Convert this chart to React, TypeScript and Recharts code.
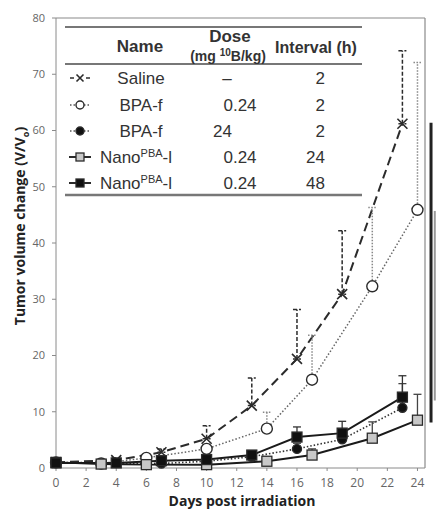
import React from "react";
import { LineChart, Line, XAxis, YAxis, ErrorBar, ReferenceLine, Customized } from "recharts";

// days and values, upper error bar ends as absolute values
const salineDays = [0, 4, 7, 10, 13, 16, 19, 23];
const salineVals = [1, 1.4, 2.8, 5.2, 11.1, 19.4, 30.9, 61.2];
const salineTop = [1.2, 1.8, 3.4, 7.5, 16.0, 28.2, 42.2, 74.2];

const bpaLowDays = [0, 3, 6, 10, 14, 17, 21, 24];
const bpaLowVals = [1, 0.8, 1.8, 3.4, 7.0, 15.7, 32.3, 45.9];
const bpaLowTop = [1.1, 1.0, 2.3, 4.2, 9.9, 23.6, 46.3, 72.1];

const bpaHighDays = [0, 4, 7, 10, 13, 16, 19, 23];
const bpaHighVals = [1, 0.9, 0.8, 1.2, 2.0, 3.4, 5.1, 10.7];
const bpaHighTop = [1.1, 1.1, 1.0, 1.6, 2.6, 4.4, 6.4, 15.0];

const nano24Days = [0, 3, 6, 10, 14, 17, 21, 24];
const nano24Vals = [1, 0.7, 0.6, 0.6, 1.2, 2.3, 5.3, 8.5];
const nano24Top = [1.1, 0.9, 0.8, 0.8, 1.5, 3.4, 8.2, 13.1];

const nano48Days = [0, 4, 7, 10, 13, 16, 19, 23];
const nano48Vals = [0.9, 0.9, 1.3, 1.5, 2.3, 5.5, 6.2, 12.6];
const nano48Top = [1.0, 1.0, 1.6, 1.9, 2.8, 7.3, 8.3, 16.4];

const xTicks = [0, 2, 4, 6, 8, 10, 12, 14, 16, 18, 20, 22, 24];
const yTicks = [0, 10, 20, 30, 40, 50, 60, 70, 80];

const legendRows = [
  { name: "Saline", sup: "", dose: "\u2013", interval: "2" },
  { name: "BPA-f", sup: "", dose: "0.24", interval: "2" },
  { name: "BPA-f", sup: "", dose: "24", interval: "2" },
  { name: "Nano", sup: "PBA", dose: "0.24", interval: "24" },
  { name: "Nano", sup: "PBA", dose: "0.24", interval: "48" },
];

function build(days: number[], vals: number[], tops: number[]) {
  return days.map((d, i) => ({ day: d, v: vals[i], err: [0, Math.max(0, tops[i] - vals[i])] }));
}

const saline = build(salineDays, salineVals, salineTop);
const bpaLow = build(bpaLowDays, bpaLowVals, bpaLowTop);
const bpaHigh = build(bpaHighDays, bpaHighVals, bpaHighTop);
const nano24 = build(nano24Days, nano24Vals, nano24Top);
const nano48 = build(nano48Days, nano48Vals, nano48Top);

const ink = "#2b2b2b";
const axisGray = "#8a8a8a";
const textFont = "'Liberation Sans', Arial, sans-serif";
const tickFont = "'Open Sans', sans-serif";

function Cross({ cx, cy, s = 5 }: any) {
  return (
    <path d={`M${cx - s},${cy - s}L${cx + s},${cy + s}M${cx - s},${cy + s}L${cx + s},${cy - s}`} stroke={ink} strokeWidth={1.6} fill="none" />
  );
}

function Circle({ cx, cy, r, fill }: any) {
  return <circle cx={cx} cy={cy} r={r} fill={fill} stroke={ink} strokeWidth={1.4} />;
}

function Square({ cx, cy, s, fill }: any) {
  return <rect x={cx - s / 2} y={cy - s / 2} width={s} height={s} fill={fill} stroke={ink} strokeWidth={1.3} />;
}

function LegendMarker({ i, x, y }: { i: number; x: number; y: number }) {
  if (i === 0)
    return (
      <g>
        <line x1={x - 10} x2={x - 6} y1={y} y2={y} stroke={ink} strokeWidth={1.5} />
        <line x1={x + 6} x2={x + 10} y1={y} y2={y} stroke={ink} strokeWidth={1.5} />
        <Cross cx={x} cy={y} s={3.5} />
      </g>
    );
  if (i === 1 || i === 2)
    return (
      <g>
        <line x1={x - 10} x2={x + 10} y1={y} y2={y} stroke="#555" strokeWidth={1.5} strokeDasharray="1.5 2" />
        <Circle cx={x} cy={y} r={4} fill={i === 1 ? "#fff" : "#111"} />
      </g>
    );
  return (
    <g>
      <line x1={x - 11} x2={x + 11} y1={y} y2={y} stroke={ink} strokeWidth={2} />
      <Square cx={x} cy={y} s={8} fill={i === 3 ? "#c8c8c8" : "#111"} />
    </g>
  );
}

function Annotations() {
  const rowY = [78, 105, 131, 157, 183];
  return (
    <g>
      {/* legend table */}
      <line x1={65} x2={362} y1={27} y2={27} stroke="#777" strokeWidth={2} />
      <line x1={65} x2={362} y1={64} y2={64} stroke="#777" strokeWidth={2} />
      <line x1={65} x2={362} y1={195} y2={195} stroke="#777" strokeWidth={2.5} />
      <text x={140} y={52} textAnchor="middle" fontFamily={textFont} fontWeight="bold" fontSize={17} fill="#333">Name</text>
      <text x={230} y={42} textAnchor="middle" fontFamily={textFont} fontWeight="bold" fontSize={17} fill="#333">Dose</text>
      <text x={228} y={61} textAnchor="middle" fontFamily={textFont} fontWeight="bold" fontSize={14} fill="#333">
        (mg <tspan fontSize={10} dy={-5}>10</tspan><tspan dy={5}>B/kg)</tspan>
      </text>
      <text x={316} y={53} textAnchor="middle" fontFamily={textFont} fontWeight="bold" fontSize={16} fill="#333">Interval (h)</text>
      {legendRows.map((r, i) => (
        <g key={i}>
          <LegendMarker i={i} x={80} y={rowY[i]} />
          <text x={r.sup ? 136 : 141} y={rowY[i] + 6} textAnchor="middle" fontFamily={textFont} fontSize={17} fill="#333">
            {r.name}
            {r.sup ? (
              <>
                <tspan fontSize={11} dy={-6}>{r.sup}</tspan>
                <tspan dy={6}>-l</tspan>
              </>
            ) : null}
          </text>
          <text
            x={r.dose === "24" ? 213 : r.dose === "0.24" ? 240 : 227}
            y={rowY[i] + 6}
            textAnchor={r.dose === "24" ? "start" : "middle"}
            fontFamily={textFont}
            fontSize={17}
            fill="#333"
          >
            {r.dose}
          </text>
          <text x={325} y={rowY[i] + 6} textAnchor="end" fontFamily={textFont} fontSize={17} fill="#333">{r.interval}</text>
        </g>
      ))}
      {/* axis titles */}
      <text x={242} y={506} textAnchor="middle" fontFamily={tickFont} fontWeight="bold" fontSize={14} fill="#222">Days post irradiation</text>
      <text transform="translate(25,226) rotate(-90)" textAnchor="middle" fontFamily={tickFont} fontWeight="bold" fontSize={14} fill="#222">
        Tumor volume change (V/V<tspan fontSize={9} dy={4}>o</tspan><tspan dy={-4}>)</tspan>
      </text>
    </g>
  );
}

export default function App() {
  return (
    <div style={{ position: "absolute", left: 0, top: 0, width: 436, height: 511, background: "#fff" }}>
      <LineChart width={436} height={511} margin={{ top: 18, right: 11, left: 0, bottom: 0 }}>
        <XAxis
          type="number"
          dataKey="day"
          domain={[0, 24.5]}
          ticks={xTicks}
          height={43}
          stroke={axisGray}
          tickSize={3}
          tickMargin={7}
          tick={{ fill: "#666", fontSize: 12, fontFamily: tickFont }}
          allowDuplicatedCategory={false}
        />
        <YAxis
          type="number"
          domain={[0, 80]}
          ticks={yTicks}
          width={56}
          stroke={axisGray}
          tickSize={4}
          tickMargin={7}
          tick={{ fill: "#666", fontSize: 11, fontFamily: tickFont }}
        />
        <ReferenceLine y={80} stroke={axisGray} strokeWidth={1.2} />
        <ReferenceLine x={24.5} stroke={axisGray} strokeWidth={1.2} />
        <ReferenceLine ifOverflow="visible" segment={[{ x: 24.9, y: 61.4 }, { x: 24.9, y: 8.1 }]} stroke="#222" strokeWidth={3} />
        <ReferenceLine ifOverflow="visible" segment={[{ x: 25.15, y: 45.7 }, { x: 25.15, y: 12 }]} stroke="#999" strokeWidth={2} />

        <Line
          data={saline}
          dataKey="v"
          stroke={ink}
          strokeWidth={2}
          strokeDasharray="9 5"
          isAnimationActive={false}
          dot={(p: any) => <Cross key={`s${p.index}`} cx={p.cx} cy={p.cy} s={5} />}
          activeDot={false}
        >
          <ErrorBar dataKey="err" direction="y" width={4} stroke={ink} strokeWidth={1.5} strokeDasharray="4 2" />
        </Line>
        <Line
          data={bpaLow}
          dataKey="v"
          stroke="#666"
          strokeWidth={1.5}
          strokeDasharray="1.5 2"
          isAnimationActive={false}
          dot={(p: any) => <Circle key={`b${p.index}`} cx={p.cx} cy={p.cy} r={5.5} fill="#fff" />}
          activeDot={false}
        >
          <ErrorBar dataKey="err" direction="y" width={4} stroke="#888" strokeWidth={1.5} strokeDasharray="1.5 1.5" />
        </Line>
        <Line
          data={bpaHigh}
          dataKey="v"
          stroke="#333"
          strokeWidth={1.6}
          strokeDasharray="1.5 2"
          isAnimationActive={false}
          dot={(p: any) => <Circle key={`h${p.index}`} cx={p.cx} cy={p.cy} r={4.5} fill="#111" />}
          activeDot={false}
        >
          <ErrorBar dataKey="err" direction="y" width={4} stroke="#444" strokeWidth={1.3} />
        </Line>
        <Line
          data={nano24}
          dataKey="v"
          stroke="#1a1a1a"
          strokeWidth={2}
          isAnimationActive={false}
          dot={(p: any) => <Square key={`n${p.index}`} cx={p.cx} cy={p.cy} s={10} fill="#c8c8c8" />}
          activeDot={false}
        >
          <ErrorBar dataKey="err" direction="y" width={4} stroke="#444" strokeWidth={1.3} />
        </Line>
        <Line
          data={nano48}
          dataKey="v"
          stroke="#1a1a1a"
          strokeWidth={2}
          isAnimationActive={false}
          dot={(p: any) => <Square key={`m${p.index}`} cx={p.cx} cy={p.cy} s={10} fill="#111" />}
          activeDot={false}
        >
          <ErrorBar dataKey="err" direction="y" width={4} stroke="#333" strokeWidth={1.3} />
        </Line>
        <Customized component={Annotations} />
      </LineChart>
    </div>
  );
}
